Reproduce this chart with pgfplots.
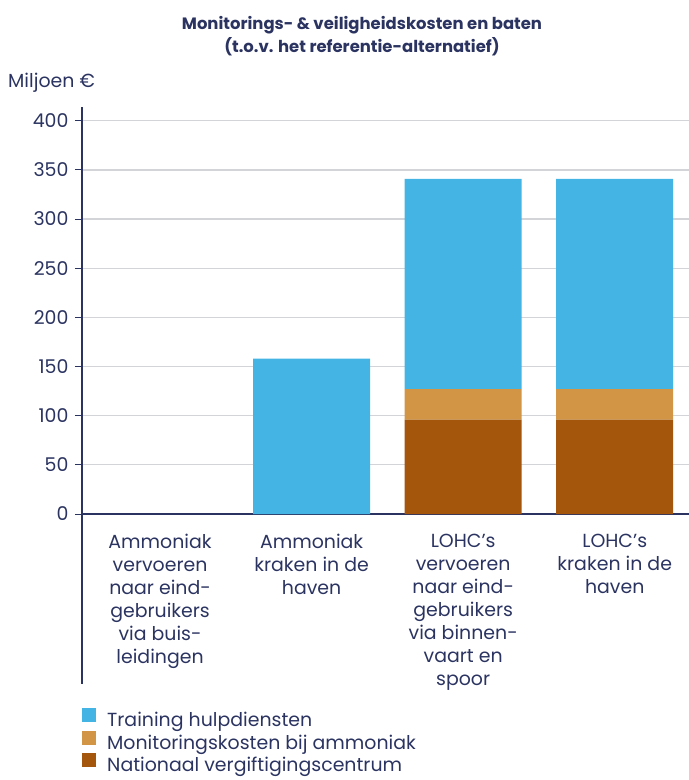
\documentclass[border=0pt]{standalone}
\usepackage{pgfplots}
\pgfplotsset{compat=1.18}
\usepackage{pgfplotstable}
\usepackage{fontspec}
\setmainfont{Poppins}
\definecolor{navy}{HTML}{2B3461}
\definecolor{gridgray}{HTML}{D2D4D8}
\definecolor{cblue}{HTML}{43B4E4}
\definecolor{corange}{HTML}{D29545}
\definecolor{cbrown}{HTML}{A5560D}

\pgfplotstableread{
x nat mon train
0 0 0 0
1 0 0 158
2 96 31 214
3 96 31 214
}\costs

\begin{document}
\begin{tikzpicture}[font=\fontsize{19}{23}\selectfont, text=navy]
\begin{axis}[
  at={(0,0)}, anchor=south west,
  scale only axis, width=607bp, height=407bp,
  ybar stacked, bar width=0.772,
  xmin=-0.515, xmax=3.49, ymin=0, ymax=414,
  axis lines=left,
  axis line style={-, navy, line width=1.2bp},
  xtick={0,1,2,3},
  xticklabels={
    {Ammoniak\\vervoeren\\naar eind-\\gebruikers\\via buis-\\leidingen},
    {Ammoniak\\kraken in de\\haven},
    {LOHC’s\\vervoeren\\naar eind-\\gebruikers\\via binnen-\\vaart en\\spoor},
    {LOHC’s\\kraken in de\\haven}},
  xtick style={draw=none},
  xticklabel style={align=center, anchor=north, yshift=-10bp, font=\fontsize{19}{23}\selectfont},
  ytick={0,50,...,400},
  ymajorgrids, grid style={gridgray, line width=1.2bp},
  tick align=outside, major tick length=7bp,
  ytick style={navy, line width=1bp},
  yticklabel style={font=\fontsize{19}{23}\selectfont, text=navy, xshift=-3bp},
  /pgf/number format/assume math mode=true,
  reverse legend,
  legend style={at={(axis description cs:0,-0.4767)}, anchor=north west,
    draw=none, fill=none, inner sep=0pt, row sep=0bp,
    nodes={inner sep=0pt, text height=13bp, text depth=4bp, text=navy},
    font=\fontsize{19}{23}\selectfont,
    /tikz/every odd column/.append style={column sep=11bp}},
  legend cell align=left,
  legend image code/.code={\fill[#1, draw=none] (0bp,0bp) rectangle (14bp,14bp);},
]
\addplot[fill=cbrown, draw=none] table[x=x, y=nat] {\costs};
\addlegendentry{Nationaal vergiftigingscentrum}
\addplot[fill=corange, draw=none] table[x=x, y=mon] {\costs};
\addlegendentry{Monitoringskosten bij ammoniak}
\addplot[fill=cblue, draw=none] table[x=x, y=train] {\costs};
\addlegendentry{Training hulpdiensten}
\end{axis}
\draw[navy, line width=1.2bp] (0,0) -- (0,-170bp);
\node[font=\bfseries\fontsize{16.5}{23}\selectfont, align=center, text=navy] at (280bp,478bp)
  {Monitorings- \& veiligheidskosten en baten\\(t.o.v. het referentie-alternatief)};
\node[anchor=west, inner sep=0pt, text=navy] at (-74bp,431bp) {Miljoen €};
\pgfresetboundingbox
\path (-82bp,-266bp) rectangle (607bp,514bp);
\end{tikzpicture}
\end{document}
